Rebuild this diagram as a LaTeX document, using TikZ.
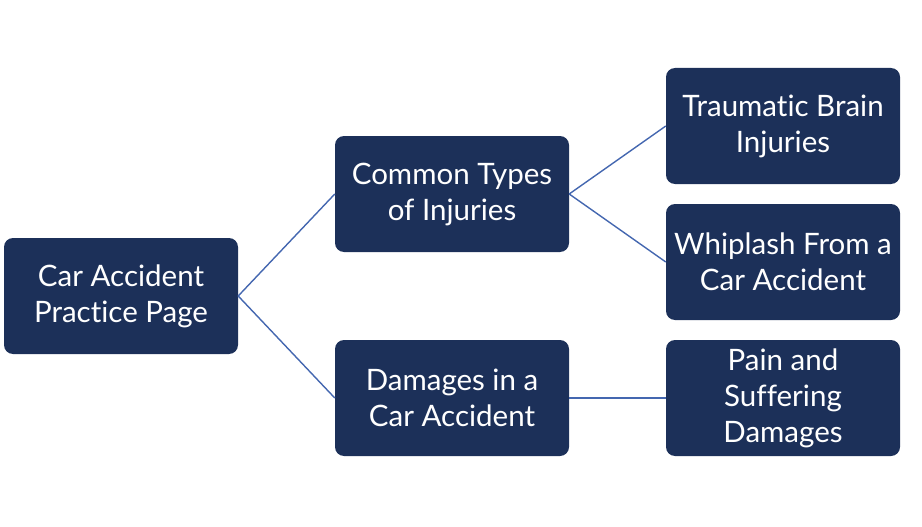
\documentclass[tikz,border=0pt]{standalone}
\usepackage{fontspec}
\setmainfont{Lato}[Ligatures={NoCommon}]
\definecolor{boxfill}{HTML}{1C3059}
\definecolor{linkcol}{HTML}{4467B0}
\begin{document}
\begin{tikzpicture}[x=1pt,y=-1pt,
  box/.style={fill=boxfill,rounded corners=9pt,minimum width=234pt,minimum height=116pt,
    text=white,align=center,inner sep=0pt,font=\fontsize{29.5}{36}\selectfont},
  link/.style={draw=linkcol,line width=1.4pt}]
\useasboundingbox (0,0) rectangle (922,527);
\node[box] (root) at (121,296) {Car Accident\\Practice Page};
\node[box] (inj) at (452,194) {Common Types\\of Injuries};
\node[box] (dam) at (452,398) {Damages in a\\Car Accident};
\node[box] (tbi) at (783,126) {Traumatic Brain\\Injuries};
\node[box] (whip) at (783,262) {Whiplash From a\\Car Accident};
\node[box] (pain) at (783,398) {Pain and\\Suffering\\Damages};
\draw[link] (root.east) -- (inj.west);
\draw[link] (root.east) -- (dam.west);
\draw[link] (inj.east) -- (tbi.west);
\draw[link] (inj.east) -- (whip.west);
\draw[link] (dam.east) -- (pain.west);
\end{tikzpicture}
\end{document}
